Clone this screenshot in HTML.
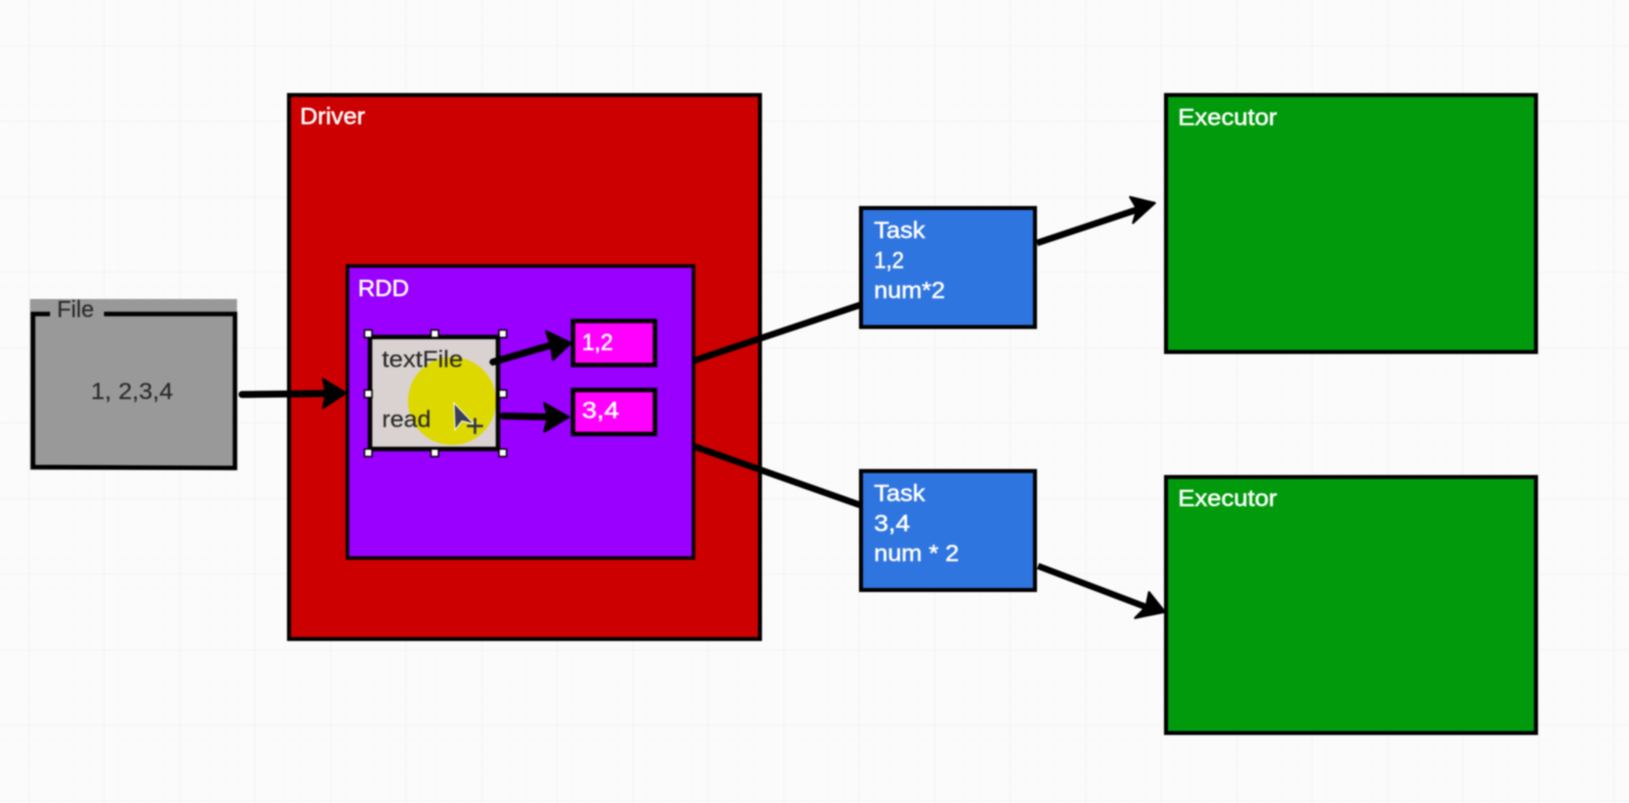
<!DOCTYPE html>
<html><head><meta charset="utf-8"><style>
html,body{margin:0;padding:0;width:1629px;height:803px;overflow:hidden;background:#fbfbfb}
svg{display:block;filter:blur(.7px)}
text{font-family:"Liberation Sans",sans-serif;font-size:23px}
.w{fill:#fff;stroke:#fff;stroke-width:.5px}.d{fill:#2a2a2a;stroke:#2a2a2a;stroke-width:.2px}
</style></head><body>
<svg width="1629" height="803" viewBox="0 0 1629 803" xmlns="http://www.w3.org/2000/svg">
<defs>
<pattern id="g" x="28" y="45" width="75.5" height="75.5" patternUnits="userSpaceOnUse">
<path d="M0 0V75.5M0 0H75.5" stroke="#f5f5f5" stroke-width="3" fill="none"/>
<path d="M15.1 0V75.5M30.2 0V75.5M45.3 0V75.5M60.4 0V75.5M0 15.1H75.5M0 30.2H75.5M0 45.3H75.5M0 60.4H75.5" stroke="#f9f9f9" stroke-width="1" fill="none"/>
</pattern>
</defs>
<rect width="1629" height="803" fill="#fbfbfb"/>
<rect width="1629" height="803" fill="url(#g)"/>

<!-- File -->
<rect x="30" y="299" width="207" height="171" fill="#999"/>
<path d="M50 314H33V467L235 468L235 314H104" fill="none" stroke="#000" stroke-width="4.500"/>
<text x="57" y="317" class="d" lengthAdjust="spacingAndGlyphs" textLength="37">File</text>
<text x="91" y="399" class="d" lengthAdjust="spacingAndGlyphs" textLength="82">1, 2,3,4</text>

<!-- Driver -->
<rect x="289" y="95" width="471" height="544" fill="#cc0000" stroke="#000" stroke-width="4"/>
<text x="300" y="124" class="w" lengthAdjust="spacingAndGlyphs" textLength="65">Driver</text>

<!-- RDD -->
<rect x="347.500" y="266" width="346" height="292" fill="#9900ff" stroke="#000" stroke-width="3.500"/>
<text x="358" y="296" class="w" lengthAdjust="spacingAndGlyphs" textLength="51">RDD</text>

<!-- Inner box -->
<rect x="370" y="337" width="128" height="112" fill="#d9d2d0"/>
<circle cx="452" cy="401" r="44" fill="#dcd800"/>
<rect x="370" y="337" width="128" height="112" fill="none" stroke="#000" stroke-width="4.500"/>
<text x="382" y="367" class="d" lengthAdjust="spacingAndGlyphs" textLength="81">textFile</text>
<text x="382" y="427" class="d" lengthAdjust="spacingAndGlyphs" textLength="49">read</text>
<path d="M454 403L455 430L462 421L474 424Z" fill="#3b3f55" stroke="#fff" stroke-width="1"/>
<path d="M475 418V434M467 426H483" stroke="#2b3050" stroke-width="2.500"/>
<g fill="#fff" stroke="#000" stroke-width="1.500">
<rect x="364.500" y="330" width="7.500" height="7.500"/><rect x="431" y="330" width="7.500" height="7.500"/><rect x="499" y="330" width="7.500" height="7.500"/>
<rect x="364.500" y="390" width="7.500" height="7.500"/><rect x="499" y="390" width="7.500" height="7.500"/>
<rect x="364.500" y="449" width="7.500" height="7.500"/><rect x="431" y="449" width="7.500" height="7.500"/><rect x="499" y="449" width="7.500" height="7.500"/>
</g>

<!-- pink -->
<rect x="573" y="321" width="82" height="44" fill="#ff00ff" stroke="#000" stroke-width="4.500"/>
<rect x="573" y="390" width="82" height="44" fill="#ff00ff" stroke="#000" stroke-width="4.500"/>
<text x="582" y="350" class="w" lengthAdjust="spacingAndGlyphs" textLength="31">1,2</text>
<text x="582" y="418" class="w" lengthAdjust="spacingAndGlyphs" textLength="37">3,4</text>

<!-- Tasks -->
<rect x="861" y="208" width="174" height="119" fill="#2f75e0" stroke="#000" stroke-width="4"/>
<rect x="861" y="471" width="174" height="119" fill="#2f75e0" stroke="#000" stroke-width="4"/>
<text x="874" y="238" class="w" lengthAdjust="spacingAndGlyphs" textLength="51">Task</text>
<text x="874" y="268" class="w" lengthAdjust="spacingAndGlyphs" textLength="30">1,2</text>
<text x="874" y="298" class="w" lengthAdjust="spacingAndGlyphs" textLength="71">num*2</text>
<text x="874" y="501" class="w" lengthAdjust="spacingAndGlyphs" textLength="51">Task</text>
<text x="874" y="531" class="w" lengthAdjust="spacingAndGlyphs" textLength="36">3,4</text>
<text x="874" y="561" class="w" lengthAdjust="spacingAndGlyphs" textLength="85">num * 2</text>

<!-- Executors -->
<rect x="1166" y="95" width="370" height="257" fill="#009a0c" stroke="#000" stroke-width="4"/>
<rect x="1166" y="477" width="370" height="256" fill="#009a0c" stroke="#000" stroke-width="4"/>
<text x="1178" y="125" class="w" lengthAdjust="spacingAndGlyphs" textLength="99">Executor</text>
<text x="1178" y="506" class="w" lengthAdjust="spacingAndGlyphs" textLength="99">Executor</text>

<!-- Arrows -->
<g stroke="#000" fill="none" stroke-linecap="round">
<path d="M242 394.500L328 393.500" stroke-width="7"/>
<path d="M493 362L555 344" stroke-width="7"/>
<path d="M503 416L550 417" stroke-width="7"/>
<path d="M693 361L860 305" stroke-width="6.500" stroke-linecap="butt"/>
<path d="M693 446L860 505" stroke-width="6.500" stroke-linecap="butt"/>
<path d="M1037 243L1142 208" stroke-width="6.500" stroke-linecap="butt"/>
<path d="M1038 566L1146 607" stroke-width="6.500" stroke-linecap="butt"/>
</g>
<g fill="#000" stroke="#000" stroke-width="2" stroke-linejoin="round">
<path d="M346 393L323 379L326 394L323 408Z"/>
<path d="M571 343L546 331L551 347L553 360Z"/>
<path d="M569 417L544 403L548 417L544 432Z"/>
<path d="M1155 203L1130 197L1137 209L1133 223Z"/>
<path d="M1165 612L1149 592L1146 607L1135 618Z"/>
</g>
</svg>
</body></html>
